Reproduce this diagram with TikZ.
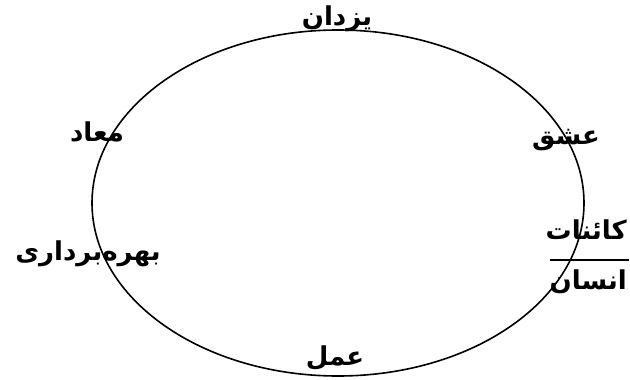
\documentclass[tikz,border=0pt]{standalone}
\usepackage{fontspec}
\newfontfamily\arabicfont[Script=Arabic]{DejaVu Sans}
\TeXXeTstate=1
\tikzset{
  lbl/.style={font=\arabicfont\bfseries\fontsize{26}{30}\selectfont, inner sep=0pt},
  ring/.style={draw=black, line width=1.6pt}
}
\begin{document}
\begin{tikzpicture}[x=1pt,y=-1pt]
\useasboundingbox (0,0) rectangle (630,380);
\draw[ring] (338,203) ellipse [x radius=246, y radius=173];
\node[lbl] (yazdan) at (337,19) {\beginR یزدان\endR};
\node[lbl] (maad) at (97,132) {\beginR معاد\endR};
\node[lbl] (bahre) at (88,254) {\beginR بهره‌برداری\endR};
\node[lbl] (eshgh) at (566,140) {\beginR عشق\endR};
\node[lbl, anchor=east] (kaenat) at (627,230) {\beginR کائنات\endR};
\node[lbl, anchor=east] (ensan) at (627,282) {\beginR انسان\endR};
\node[lbl] (amal) at (335,358) {\beginR عمل\endR};
\coordinate (fl) at (550,260);
\coordinate (fr) at (629,260);
\draw[line width=1.3pt] (fl) -- (fr);
\end{tikzpicture}
\end{document}
